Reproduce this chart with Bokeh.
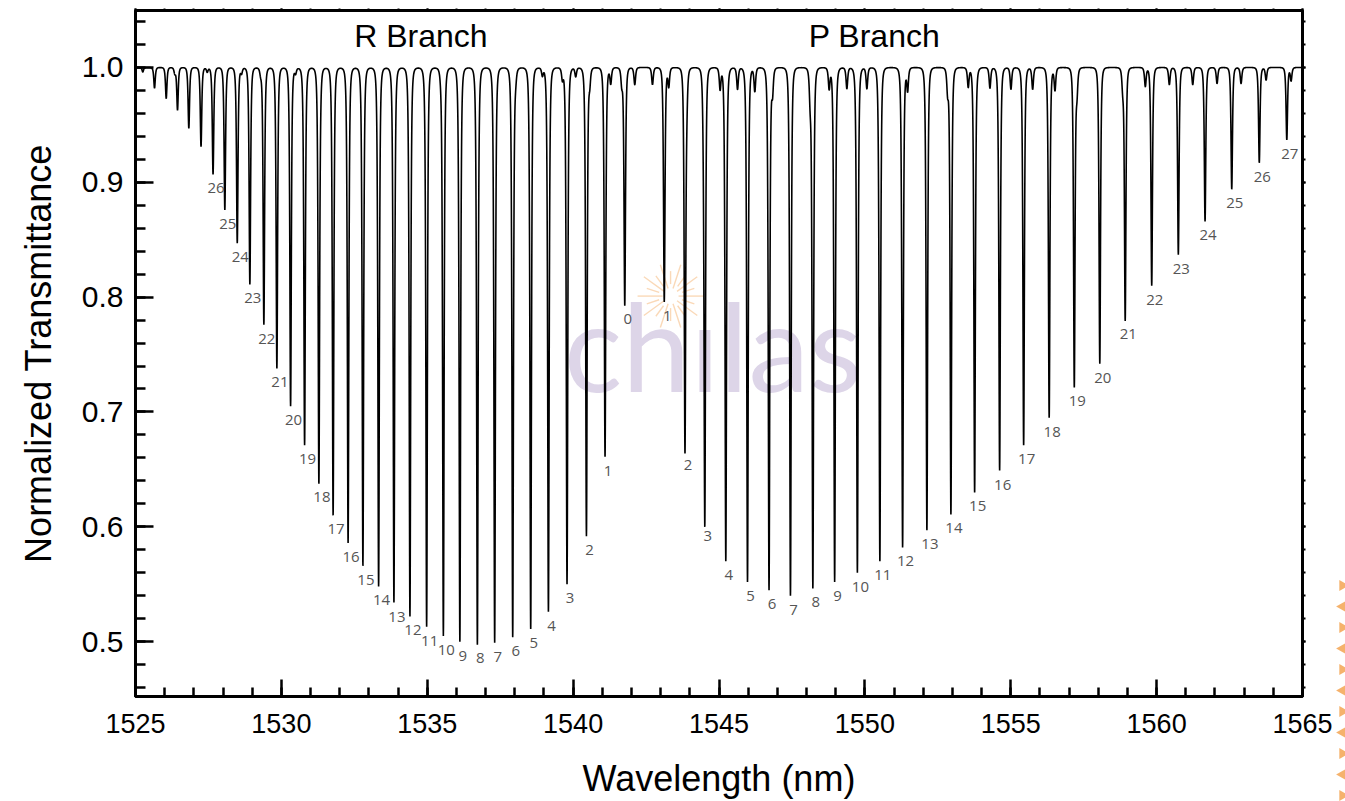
import numpy as np
from bokeh.plotting import figure
from bokeh.layouts import row
from bokeh.models import (Range1d, FixedTicker, SingleIntervalTicker, LinearAxis,
                          Label, ColumnDataSource, NumeralTickFormatter,
                          CustomJSTickFormatter)
from bokeh.core.properties import value
from bokeh.embed import file_html
from bokeh.resources import INLINE

# ---- absorption lines: centre wavelength (nm) and transmittance at line centre ----
# R branch, J = 0 ... 32
r_j = list(range(0, 33))
r_center = [1541.770, 1541.094, 1540.456, 1539.791, 1539.153, 1538.546, 1537.929,
            1537.311, 1536.718, 1536.118, 1535.552, 1534.979, 1534.407, 1533.858,
            1533.333, 1532.795, 1532.287, 1531.773, 1531.286, 1530.796, 1530.316,
            1529.846, 1529.400, 1528.920, 1528.488, 1528.062, 1527.658, 1527.246,
            1526.828, 1526.440, 1526.053, 1525.652, 1525.250]
r_min = [0.793, 0.661, 0.592, 0.550, 0.526, 0.511, 0.504, 0.499, 0.498, 0.500,
         0.505, 0.513, 0.522, 0.534, 0.548, 0.566, 0.586, 0.610, 0.638, 0.671,
         0.705, 0.738, 0.776, 0.811, 0.847, 0.876, 0.907, 0.931, 0.947, 0.963,
         0.973, 0.982, 0.996]
r_labelled = 27  # J = 0 ... 26 carry a label

# P branch, J = 1 ... 27
p_j = list(range(1, 28))
p_center = [1543.124, 1543.834, 1544.513, 1545.233, 1545.977, 1546.715, 1547.449,
            1548.217, 1548.964, 1549.743, 1550.514, 1551.293, 1552.126, 1552.949,
            1553.762, 1554.619, 1555.442, 1556.317, 1557.178, 1558.052, 1558.923,
            1559.832, 1560.744, 1561.660, 1562.575, 1563.519, 1564.462]
p_min = [0.796, 0.666, 0.604, 0.570, 0.552, 0.545, 0.540, 0.547, 0.552, 0.560,
         0.570, 0.582, 0.597, 0.611, 0.630, 0.649, 0.671, 0.695, 0.722, 0.742,
         0.780, 0.810, 0.837, 0.866, 0.894, 0.917, 0.937]

# weak hot-band lines
weak_center = [1526.348, 1527.459, 1528.635, 1529.287, 1530.487, 1531.344, 1535.460,
               1536.763, 1538.032, 1538.947, 1539.633, 1540.089, 1540.569, 1541.289,
               1541.667, 1542.113, 1542.720, 1543.278, 1543.896, 1544.468, 1545.038,
               1545.635, 1546.228, 1546.835, 1548.124, 1548.776, 1549.383, 1550.069,
               1551.465, 1552.836, 1553.543, 1554.287, 1555.007, 1555.751, 1556.516,
               1557.270, 1558.837, 1559.613, 1560.436, 1561.238, 1562.071, 1562.894,
               1563.752, 1564.609]
weak_min = [0.995, 0.996, 0.995, 0.995, 0.995, 0.996, 0.9965, 0.996, 0.993, 0.993,
            0.990, 0.992, 0.987, 0.986, 0.986, 0.985, 0.985, 0.9835, 0.980, 0.978,
            0.981, 0.981, 0.979, 0.979, 0.975, 0.9815, 0.9815, 0.9815, 0.980, 0.980,
            0.983, 0.982, 0.981, 0.981, 0.980, 0.980, 0.984, 0.9835, 0.985, 0.985,
            0.986, 0.986, 0.989, 0.9885]

x_ticks_step = 5
y_ticks = [0.5, 0.6, 0.7, 0.8, 0.9, 1.0]

# ---- transmittance curve: squared-Lorentzian line shapes on a unit baseline ----
W_MAIN = 0.045
W_WEAK = 0.05
centres = np.array(r_center + p_center + weak_center)
grid = np.arange(1525.0, 1565.0005, 0.004)
near = (centres[:, None] + np.array([-0.02, -0.01, -0.005, 0.0, 0.005, 0.01, 0.02])).ravel()
wl = np.union1d(grid, near)
trans = np.ones_like(wl)
for c, m in zip(r_center + p_center, r_min + p_min):
    trans *= 1.0 - (1.0 - m) * (W_MAIN**2 / ((wl - c) ** 2 + W_MAIN**2)) ** 2
for c, m in zip(weak_center, weak_min):
    trans *= 1.0 - (1.0 - m) * (W_WEAK**2 / ((wl - c) ** 2 + W_WEAK**2)) ** 2

p = figure(width=1335, height=801, x_range=Range1d(1525, 1565),
           y_range=Range1d(0.4522, 1.0496), output_backend="svg",
           toolbar_location=None, min_border_left=135, min_border_right=33,
           min_border_top=10, min_border_bottom=104, background_fill_color="white",
           border_fill_color="white")
p.xgrid.visible = False
p.ygrid.visible = False
p.outline_line_color = "black"
p.outline_line_width = 3

AX_FONT = "Liberation Sans"
blank = CustomJSTickFormatter(code="return ''")

# bottom axis
xa = p.xaxis[0]
xa.ticker = SingleIntervalTicker(interval=x_ticks_step, num_minor_ticks=5)
xa.major_tick_in = 17
xa.major_tick_out = 0
xa.minor_tick_in = 9
xa.minor_tick_out = 0
xa.major_tick_line_width = 2.5
xa.minor_tick_line_width = 2.5
xa.axis_line_width = 3
xa.major_label_standoff = 17
xa.major_label_text_font = AX_FONT
xa.major_label_text_font_size = "27px"
xa.major_label_text_color = "black"
xa.axis_label = "Wavelength (nm)"
xa.axis_label_text_font = AX_FONT
xa.axis_label_text_font_size = "36px"
xa.axis_label_text_font_style = "normal"
xa.axis_label_text_color = "black"
xa.axis_label_standoff = 22

# left axis
minor_y = [round(v, 2) for v in np.arange(0.46, 1.05, 0.02)]
ya = p.yaxis[0]
ya.ticker = FixedTicker(ticks=y_ticks, minor_ticks=minor_y)
ya.formatter = NumeralTickFormatter(format="0.0")
ya.major_tick_in = 18
ya.major_tick_out = 0
ya.minor_tick_in = 10
ya.minor_tick_out = 0
ya.major_tick_line_width = 2.5
ya.minor_tick_line_width = 2.5
ya.axis_line_width = 3
ya.major_label_standoff = 12
ya.major_label_text_font = AX_FONT
ya.major_label_text_font_size = "30px"
ya.major_label_text_color = "black"
ya.axis_label = "Normalized Transmittance"
ya.axis_label_text_font = AX_FONT
ya.axis_label_text_font_size = "36px"
ya.axis_label_text_font_style = "normal"
ya.axis_label_text_color = "black"
ya.axis_label_standoff = 20

# small outer ticks on the right and top frame edges
ra = LinearAxis(ticker=FixedTicker(ticks=y_ticks, minor_ticks=minor_y), formatter=blank,
                major_label_standoff=0,
                major_tick_in=0, major_tick_out=3, minor_tick_in=0, minor_tick_out=3,
                major_tick_line_width=2, minor_tick_line_width=2, axis_line_width=3)
p.add_layout(ra, "right")
ta = LinearAxis(ticker=SingleIntervalTicker(interval=x_ticks_step, num_minor_ticks=5),
                formatter=blank, major_label_standoff=0,
                major_tick_in=0, major_tick_out=2, minor_tick_in=0, minor_tick_out=2,
                major_tick_line_width=2, minor_tick_line_width=2, axis_line_width=3)
p.add_layout(ta, "above")

# faint logo watermark
PX_X = 29.175
PX_Y = 1150.0
logo_x, logo_y = 1544.79, 0.758
p.text(x=[logo_x], y=[logo_y], text=["ch\u0131las"], text_font=value("Lato"),
       text_font_size="122px", text_color="#ddd5e8", text_align="center",
       text_baseline="alphabetic")
sun_x, sun_y = 1543.34, 0.8009
n_rays = 20
ang = np.linspace(0, 2 * np.pi, n_rays, endpoint=False)
r_in = np.where(np.arange(n_rays) % 2 == 0, 8, 12)
r_out = np.where(np.arange(n_rays) % 2 == 0, 33, 25)
p.segment(x0=sun_x + r_in * np.cos(ang) / PX_X, y0=sun_y + r_in * np.sin(ang) / PX_Y,
          x1=sun_x + r_out * np.cos(ang) / PX_X, y1=sun_y + r_out * np.sin(ang) / PX_Y,
          line_color="#fad9b8", line_width=1.4)

# spectrum
p.line(wl, trans, line_color="black", line_width=1.6)

# rotational quantum number labels
lab = ColumnDataSource(dict(
    x=r_center[:r_labelled] + p_center,
    y=r_min[:r_labelled] + p_min,
    t=[str(j) for j in r_j[:r_labelled]] + [str(j) for j in p_j],
))
p.text(x="x", y="y", text="t", source=lab, x_offset=3, y_offset=14,
       text_font=value("Open Sans"), text_font_size="15px", text_color="#555555",
       text_align="center", text_baseline="middle")

# branch names
for name, cx in (("R Branch", 1534.78), ("P Branch", 1550.33)):
    p.add_layout(Label(x=cx, y=1.027, text=name, text_font=AX_FONT,
                       text_font_size="32px", text_color="black",
                       text_align="center", text_baseline="middle"))

# decorative arrow strip along the right page edge (page pixel coordinates)
deco = figure(width=10, height=801, x_range=Range1d(0, 10), y_range=Range1d(801, 0),
              output_backend="svg", toolbar_location=None, min_border=0,
              x_axis_type=None, y_axis_type=None, outline_line_color=None,
              background_fill_color="white", border_fill_color="white")
deco.frame_align = False
deco.xgrid.visible = False
deco.ygrid.visible = False
tri_y = np.arange(585, 801, 21)
tri_angle = np.where(np.arange(len(tri_y)) % 2 == 0, -np.pi / 2, np.pi / 2)
deco.scatter(x=np.full(len(tri_y), 7.0), y=tri_y, marker="triangle", size=11,
             angle=tri_angle, fill_color="#f5b26c", line_color=None)

open("out.html", "w").write(file_html(row(p, deco, spacing=0), INLINE))
